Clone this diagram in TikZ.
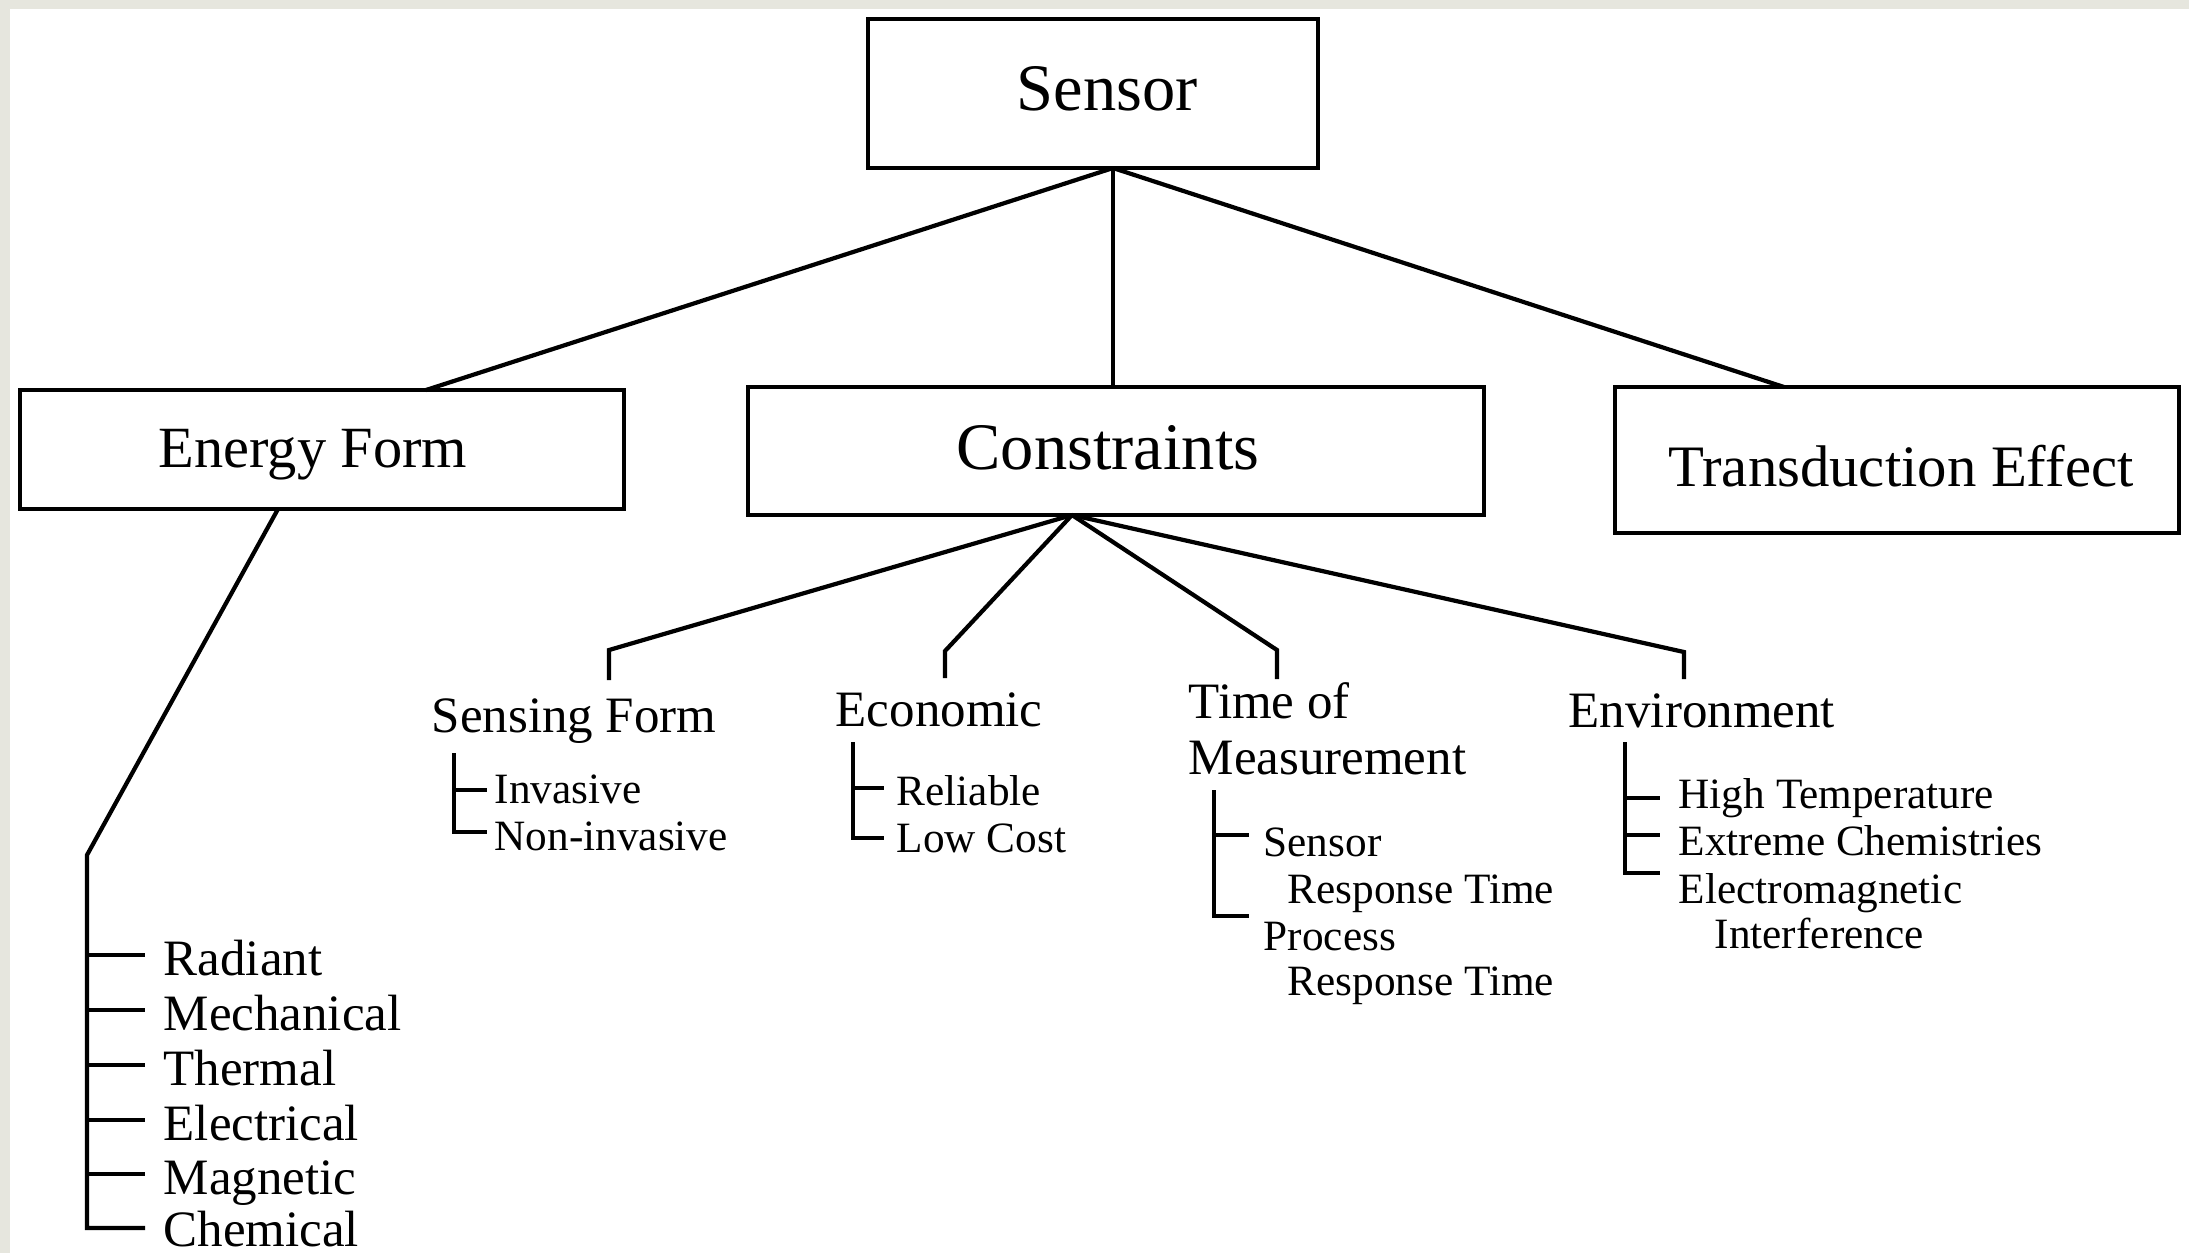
\documentclass[tikz,border=0pt]{standalone}
\usepackage{fontspec}
\setmainfont{Liberation Serif}
\definecolor{edgegray}{HTML}{E6E6DE}
\begin{document}
\begin{tikzpicture}[x=0.01cm,y=-0.01cm,
  box/.style={draw,line width=1.25pt,inner sep=0pt},
  conn/.style={line width=1.2pt,line join=miter},
  brk/.style={line width=1.1pt},
  lbl/.style={inner sep=0pt,anchor=base west},
  fsA/.style={font=\fontsize{18.9}{22}\selectfont},
  fsE/.style={font=\fontsize{16.6}{20}\selectfont},
  fsT/.style={font=\fontsize{16.7}{19}\selectfont},
  fsB/.style={font=\fontsize{14.5}{15.9}\selectfont},
  fsC/.style={font=\fontsize{12.3}{14}\selectfont}
]
% background
\fill[edgegray] (0,0) rectangle (2189,1253);
\fill[white] (10,9) rectangle (2189,1253);
\useasboundingbox (0,0) rectangle (2189,1253);

% boxes
\node[box,minimum width=4.50cm,minimum height=1.49cm] (sensor) at (1093,93.5) {};
\node[box,minimum width=6.04cm,minimum height=1.19cm] (energy) at (322,449.5) {};
\node[box,minimum width=7.36cm,minimum height=1.28cm] (cons) at (1116,451) {};
\node[box,minimum width=5.64cm,minimum height=1.46cm] (trans) at (1897,460) {};

\node[fsA,inner sep=0pt,anchor=base] (tSensor) at (1107,110) {Sensor};
\node[fsE,inner sep=0pt,anchor=base] (tEnergy) at (313,467) {Energy Form};
\node[fsA,inner sep=0pt,anchor=base] (tCons) at (1108,469) {Constraints};
\node[fsT,inner sep=0pt,anchor=base] (tTrans) at (1901,486) {Transduction Effect};

% top connectors
\coordinate (sHub) at (1113,168);
\coordinate (eIn) at (426,390);
\coordinate (cIn) at (1113,387);
\coordinate (tIn) at (1784,387);
\draw[conn] (sHub) -- (eIn);
\draw[conn] (sHub) -- (cIn);
\draw[conn] (sHub) -- (tIn);

% energy form list
\coordinate (eOut) at (278,509);
\coordinate (eBend) at (87,855);
\coordinate (eEnd) at (87,1228);
\draw[conn] (eOut) -- (eBend) -- (eEnd) -- (145,1228);
\foreach \yy in {955,1010,1065,1120,1174} \draw[brk] (87,\yy) -- (145,\yy);
\node[fsB,lbl] (rad) at (163,975) {Radiant};
\node[fsB,lbl] (mec) at (163,1030) {Mechanical};
\node[fsB,lbl] (the) at (163,1085) {Thermal};
\node[fsB,lbl] (ele) at (163,1140) {Electrical};
\node[fsB,lbl] (mag) at (163,1194) {Magnetic};
\node[fsB,lbl] (che) at (163,1246) {Chemical};

% constraints branches
\coordinate (cHub) at (1072,515);
\coordinate (sfB) at (609,650);
\coordinate (sfE) at (609,680);
\coordinate (ecB) at (945,651);
\coordinate (ecE) at (945,678);
\coordinate (tmB) at (1277,650);
\coordinate (tmE) at (1277,679);
\coordinate (enB) at (1684,652);
\coordinate (enE) at (1684,679);
\draw[conn] (cHub) -- (sfB) -- (sfE);
\draw[conn] (cHub) -- (ecB) -- (ecE);
\draw[conn] (cHub) -- (tmB) -- (tmE);
\draw[conn] (cHub) -- (enB) -- (enE);

% sensing form
\node[fsB,lbl] (sf) at (431,732) {Sensing Form};
\draw[brk] (454,753) -- (454,832) -- (487,832);
\draw[brk] (454,790) -- (487,790);
\node[fsC,lbl] (inv) at (494,803) {Invasive};
\node[fsC,lbl] (ninv) at (494,850) {Non-invasive};

% economic
\node[fsB,lbl] (eco) at (835,726) {Economic};
\draw[brk] (853,742) -- (853,838) -- (884,838);
\draw[brk] (853,788) -- (884,788);
\node[fsC,lbl] (rel) at (896,805) {Reliable};
\node[fsC,lbl] (low) at (896,852) {Low Cost};

% time of measurement
\node[fsB,lbl] (tom1) at (1188,718) {Time of};
\node[fsB,lbl] (tom2) at (1188,774) {Measurement};
\draw[brk] (1214,790) -- (1214,916) -- (1249,916);
\draw[brk] (1214,835) -- (1249,835);
\node[fsC,lbl] (srt1) at (1263,856) {Sensor};
\node[fsC,lbl] (srt2) at (1287,903) {Response Time};
\node[fsC,lbl] (prt1) at (1263,950) {Process};
\node[fsC,lbl] (prt2) at (1287,995) {Response Time};

% environment
\node[fsB,lbl] (env) at (1568,727) {Environment};
\draw[brk] (1625,742) -- (1625,873) -- (1660,873);
\draw[brk] (1625,798) -- (1660,798);
\draw[brk] (1625,835) -- (1660,835);
\node[fsC,lbl] (ht) at (1678,808) {High Temperature};
\node[fsC,lbl] (ec) at (1678,855) {Extreme Chemistries};
\node[fsC,lbl] (em1) at (1678,903) {Electromagnetic};
\node[fsC,lbl] (em2) at (1714,948) {Interference};
\end{tikzpicture}
\end{document}
